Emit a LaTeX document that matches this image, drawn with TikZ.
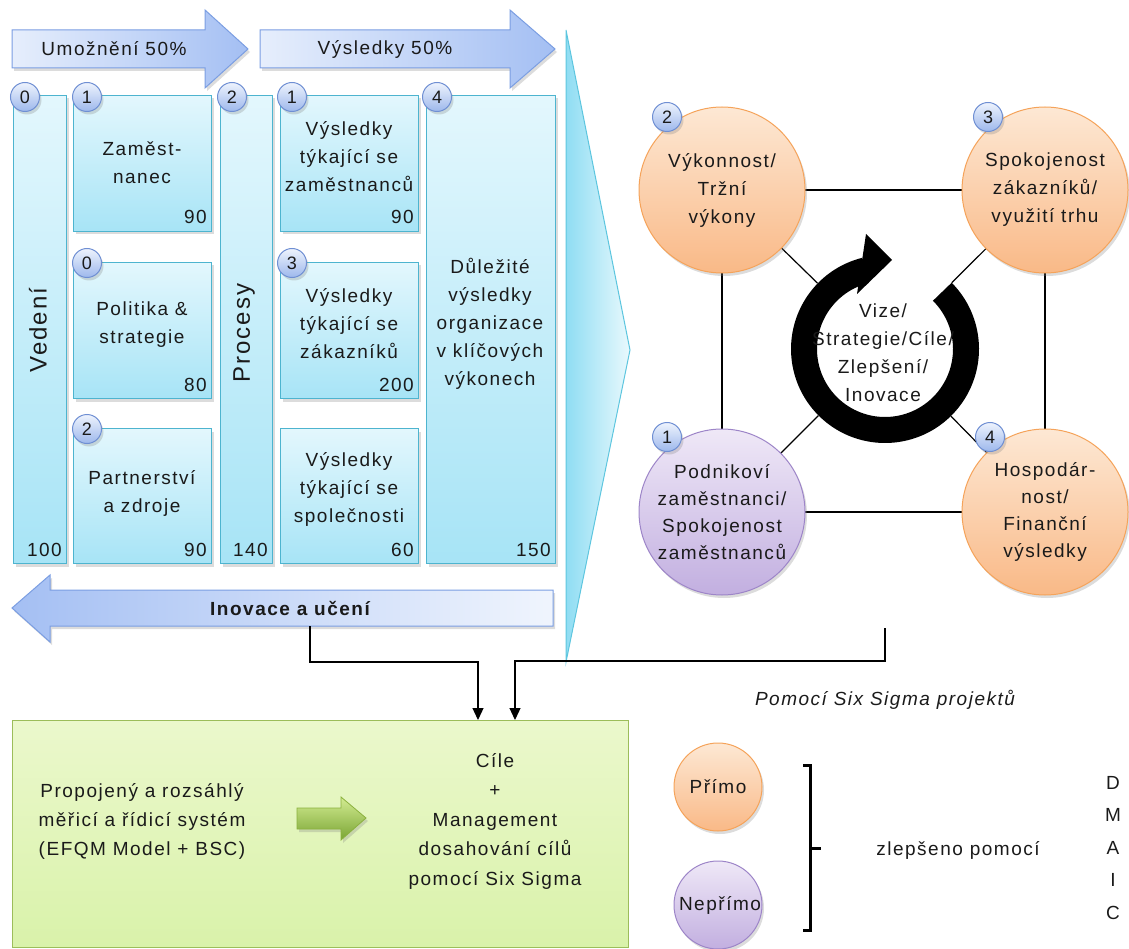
\documentclass[tikz,border=0pt]{standalone}
\usepackage{fontspec}
\setmainfont{Liberation Sans}[LetterSpace=8]
\usetikzlibrary{shadows,arrows.meta,shapes.geometric}
\definecolor{boxT}{HTML}{E3F7FD}
\definecolor{boxB}{HTML}{A7E4F6}
\definecolor{boxD}{HTML}{4DB4CF}
\definecolor{arrL}{HTML}{E6EEFC}
\definecolor{arrR}{HTML}{A4BFF3}
\definecolor{arrD}{HTML}{7B9EE2}
\definecolor{bdgT}{HTML}{EEF3FD}
\definecolor{bdgB}{HTML}{9DB8EC}
\definecolor{bdgD}{HTML}{6F8FD3}
\definecolor{orT}{HTML}{FDE8D4}
\definecolor{orB}{HTML}{F9B987}
\definecolor{orD}{HTML}{F5A35A}
\definecolor{puT}{HTML}{EFE8F7}
\definecolor{puB}{HTML}{C2AFE0}
\definecolor{puD}{HTML}{9D85C8}
\definecolor{grT}{HTML}{EBF8CC}
\definecolor{grB}{HTML}{D9F2AA}
\definecolor{grD}{HTML}{9CBD5A}
\definecolor{gaT}{HTML}{D3EC92}
\definecolor{gaB}{HTML}{7AA534}
\definecolor{gaD}{HTML}{8BB13E}
\definecolor{wdL}{HTML}{8FDDF3}
\definecolor{wdR}{HTML}{E9F9FD}
\definecolor{wdD}{HTML}{5EC6DF}
\definecolor{txt}{HTML}{1A1A1A}
\newcommand\fB{\fontsize{19}{28}\selectfont}
\newcommand\fR{\fontsize{24}{28}\selectfont}
\begin{document}
\begin{tikzpicture}[x=1pt,y=-1pt,
  every node/.style={text=txt},
  shd/.style={drop shadow={shadow xshift=2pt,shadow yshift=-3pt,opacity=.28}},
  cbox/.style={shd,draw=boxD,line width=1pt,top color=boxT,bottom color=boxB,anchor=north west,inner sep=0pt},
  btxt/.style={font=\fB,align=center},
  num/.style={font=\fB,anchor=base east,inner sep=0pt},
  badge/.style={circle,draw=bdgD,line width=1pt,top color=bdgT,bottom color=bdgB,minimum size=29pt,inner sep=0pt,font=\fontsize{18}{18}\selectfont,shd},
  barrow/.style={shd,draw=arrD,line width=1pt,left color=arrL,right color=arrR},
  ocirc/.style={circle,draw=orD,line width=1pt,top color=orT,bottom color=orB,minimum size=166pt,inner sep=0pt,font=\fontsize{19}{28}\selectfont,align=center,shd},
  pcirc/.style={circle,draw=puD,line width=1pt,top color=puT,bottom color=puB,minimum size=166pt,inner sep=0pt,font=\fontsize{19}{27}\selectfont,align=center,shd},
  conn/.style={draw=black,line width=1.2pt,-{Triangle[length=12pt,width=11pt]}},
  sq/.style={draw=black,line width=1.2pt}
]
\useasboundingbox (0,0) rectangle (1129,949);

% wedge
\path[draw=wdD,line width=1pt,left color=wdL,right color=wdR] (566,30) -- (630,350) -- (566,662) -- cycle;

% top arrows
\path[barrow] (12,30) -- (205,30) -- (205,10) -- (248,49) -- (205,88) -- (205,68) -- (12,68) -- cycle;
\node[font=\fB] (umoz) at (114,49) {Umožnění 50\%};
\path[barrow] (260,30) -- (510,30) -- (510,10) -- (555,49) -- (510,88) -- (510,68) -- (260,68) -- cycle;
\node[font=\fB] (vysl) at (385,49) {Výsledky 50\%};

% columns and boxes
\node[cbox,minimum width=53pt,minimum height=468pt] (ved) at (13,95) {};
\node[rotate=90,font=\fR] (vedt) at (38,330) {Vedení};
\node[num] (n100) at (62,556) {100};

\node[cbox,minimum width=138pt,minimum height=136pt] (zam) at (73,95) {};
\node[btxt] (zamt) at (142,163) {Zaměst-\\nanec};
\node[num] (n90a) at (207,224) {90};

\node[cbox,minimum width=138pt,minimum height=136pt] (pol) at (73,262) {};
\node[btxt] (polt) at (142,325) {Politika \&\\strategie};
\node[num] (n80) at (207,391) {80};

\node[cbox,minimum width=138pt,minimum height=135pt] (par) at (73,428) {};
\node[btxt] (part) at (142,493) {Partnerství\\a zdroje};
\node[num] (n90b) at (207,556) {90};

\node[cbox,minimum width=52pt,minimum height=468pt] (pro) at (220,95) {};
\node[rotate=90,font=\fR] (prot) at (244,333) {Procesy};
\node[num] (n140) at (268,556) {140};

\node[cbox,minimum width=138pt,minimum height=136pt] (vz) at (280,95) {};
\node[btxt] (vzt) at (349,157) {Výsledky\\týkající se\\zaměstnanců};
\node[num] (n90c) at (414,224) {90};

\node[cbox,minimum width=138pt,minimum height=136pt] (vk) at (280,262) {};
\node[btxt] (vkt) at (349,324) {Výsledky\\týkající se\\zákazníků};
\node[num] (n200) at (414,391) {200};

\node[cbox,minimum width=138pt,minimum height=135pt] (vs) at (280,428) {};
\node[btxt] (vst) at (349,489) {Výsledky\\týkající se\\společnosti};
\node[num] (n60) at (414,556) {60};

\node[cbox,minimum width=129pt,minimum height=468pt] (dul) at (426,95) {};
\node[btxt] (dult) at (490,324) {Důležité\\výsledky\\organizace\\v klíčových\\výkonech};
\node[num] (n150) at (551,556) {150};

% badges left
\node[badge] (b0) at (25,97) {0};
\node[badge] (b1) at (87,97) {1};
\node[badge] (b2) at (232,97) {2};
\node[badge] (b3) at (292,97) {1};
\node[badge] (b4) at (437,97) {4};
\node[badge] (b5) at (87,263) {0};
\node[badge] (b6) at (292,263) {3};
\node[badge] (b7) at (87,429) {2};

% bottom arrow
\path[shd,draw=arrD,line width=1pt,left color=arrR,right color=arrL!60!white] (553,590) -- (50,590) -- (50,575) -- (12,608) -- (50,642) -- (50,626) -- (553,626) -- cycle;
\node[font=\fB\bfseries] (inov) at (290,608) {Inovace a učení};

% right diagram
\coordinate (p2) at (722,190);
\coordinate (p3) at (1045,190);
\coordinate (p1) at (722,512);
\coordinate (p4) at (1045,512);
\coordinate (hub) at (885,349);
\draw[sq] (p2) -- (p3) -- (p4) -- (p1) -- cycle;
\draw[sq] (p2) -- (hub) (p3) -- (hub) (p1) -- (hub) (p4) -- (hub);
\fill[white] (hub) circle (94);
\draw[line width=26pt] plot[domain=45:-256,samples=150] ({885+81*cos(\x)},{349-81*sin(\x)});
\fill[black] (866,234) -- (892,260) -- (857,294) -- cycle;
\node[font=\fontsize{19}{28}\selectfont,align=center] (vize) at (883,353) {Vize/\\Strategie/Cíle/\\Zlepšení/\\Inovace};

\node[ocirc] (c2) at (p2) {Výkonnost/\\Tržní\\výkony};
\node[ocirc] (c3) at (p3) {Spokojenost\\zákazníků/\\využití trhu};
\node[pcirc] (c1) at (p1) {Podnikoví\\zaměstnanci/\\Spokojenost\\zaměstnanců};
\node[ocirc,font=\fontsize{19}{27}\selectfont] (c4) at (p4) {Hospodár-\\nost/\\Finanční\\výsledky};
\node[badge] (k2) at (667,117) {2};
\node[badge] (k3) at (988,117) {3};
\node[badge] (k1) at (667,437) {1};
\node[badge] (k4) at (990,437) {4};

% green box
\node[anchor=north west,draw=grD,line width=1.2pt,top color=grT,bottom color=grB,minimum width=616pt,minimum height=227pt,inner sep=0pt] (gbox) at (12,720) {};
\node[btxt,font=\fontsize{19}{29}\selectfont] (gl) at (142,821) {Propojený a rozsáhlý\\měřicí a řídicí systém\\(EFQM Model + BSC)};
\node[btxt,font=\fontsize{19}{29.5}\selectfont] (gr) at (495,821) {Cíle\\+\\Management\\dosahování cílů\\pomocí Six Sigma};
\path[shd,draw=gaD,line width=.8pt,top color=gaT,bottom color=gaB] (297,808) -- (341,808) -- (341,797) -- (366,818) -- (341,840) -- (341,829) -- (297,829) -- cycle;

% connectors
\coordinate (s1) at (310,626);
\coordinate (s2) at (885,628);
\coordinate (t1) at (478,720);
\coordinate (t2) at (515,720);
\draw[conn] (s1) -- ++(0,36) -| (t1);
\draw[conn] (s2) -- ++(0,33) -| (t2);

% legend
\node[font=\fB\itshape] (pom) at (885,700) {Pomocí Six Sigma projektů};
\node[circle,draw=orD,line width=1pt,top color=orT,bottom color=orB,minimum size=88pt,inner sep=0pt,font=\fB,shd] (pri) at (718,787) {Přímo};
\node[circle,draw=puD,line width=1pt,top color=puT,bottom color=puB,minimum size=88pt,inner sep=0pt,shd] (nep) at (718,905) {};
\node[font=\fB] (nept) at (720,905) {Nepřímo};
\coordinate (br1) at (803,765);
\coordinate (br2) at (803,930);
\draw[line width=3pt] (br1) -- ++(7,0) |- (br2);
\draw[line width=3pt] (810,848) -- ++(11,0);
\node[font=\fB] (zlep) at (958,850) {zlepšeno pomocí};
\node[font=\fontsize{19}{32.5}\selectfont,align=center] (dmaic) at (1113,848) {D\\M\\A\\I\\C};
\end{tikzpicture}
\end{document}
